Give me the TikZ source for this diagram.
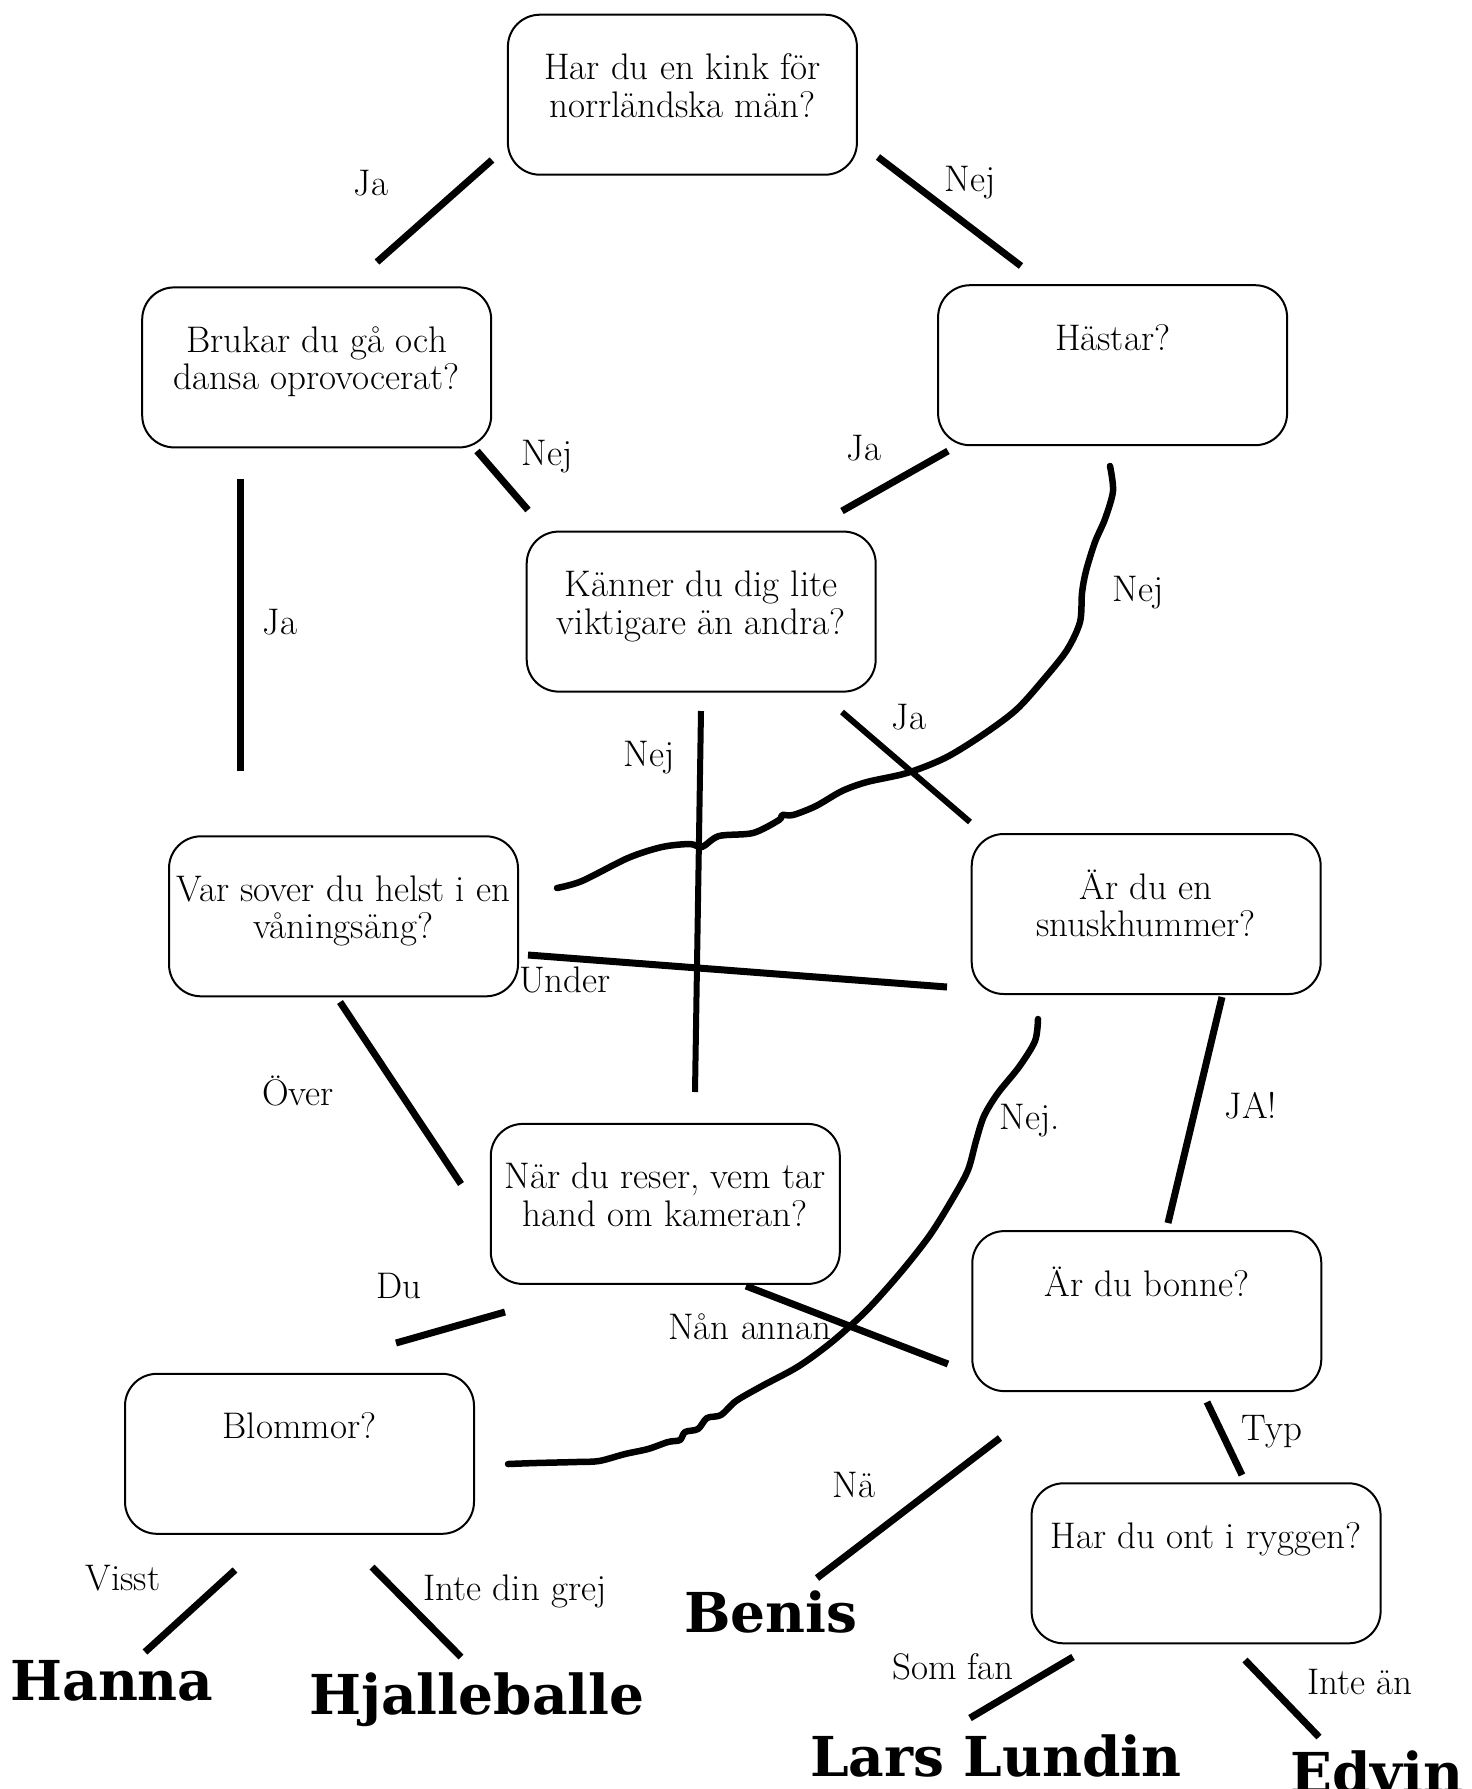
\documentclass[tikz,border=0pt]{standalone}
\usepackage{fontspec}
\newfontfamily\namefont{DejaVu Serif}
\newcommand\qtxt[1]{\parbox[c][160pt][t]{345pt}{\centering\fontsize{37}{37.5}\selectfont\rule{0pt}{65pt}#1}}
\begin{document}
\begin{tikzpicture}[x=1pt,y=-1pt,
  qbox/.style={draw, line width=2pt, rounded corners=32pt, minimum width=349pt, minimum height=160pt, inner sep=0pt},
  lab/.style={anchor=base, inner sep=0pt, font=\fontsize{37}{37.5}\selectfont},
  endname/.style={anchor=base, inner sep=0pt, font=\namefont\bfseries\fontsize{55}{58}\selectfont},
  conn/.style={line width=7pt},
  thin conn/.style={line width=6pt},
  wavy/.style={line width=6.5pt, line join=round, line cap=round}]
\fill[white] (0,0) rectangle (1472,1789);
\useasboundingbox (0,0) rectangle (1472,1789);

% question boxes
\node[qbox] (q1)  at (682.4,94.7)   {\qtxt{Har du en kink för\\norrländska män?}};
\node[qbox] (q2)  at (316.7,367.4)  {\qtxt{Brukar du gå och\\dansa oprovocerat?}};
\node[qbox] (q3)  at (1112.6,365.2) {\qtxt{Hästar?}};
\node[qbox] (q4)  at (701.2,611.6)  {\qtxt{Känner du dig lite\\viktigare än andra?}};
\node[qbox] (q5)  at (343.5,916.3)  {\qtxt{Var sover du helst i en\\våningsäng?}};
\node[qbox] (q6)  at (1146.2,914.0) {\qtxt{Är du en\\snuskhummer?}};
\node[qbox] (q7)  at (665.3,1203.9) {\qtxt{När du reser, vem tar\\hand om kameran?}};
\node[qbox] (q8)  at (1146.8,1311.1){\qtxt{Är du bonne?}};
\node[qbox] (q9)  at (299.5,1453.8) {\qtxt{Blommor?}};
\node[qbox] (q10) at (1206.1,1563.3){\qtxt{Har du ont i ryggen?}};

% end results
\node[endname] (r1) at (112,1700)  {Hanna};
\node[endname] (r2) at (477,1714)  {Hjalleballe};
\node[endname] (r3) at (771,1632)  {Benis};
\node[endname] (r4) at (996,1776)  {Lars Lundin};
\node[endname] (r5) at (1377,1792) {Edvin};

% connector end points
\coordinate (a1) at (492,160);   \coordinate (b1) at (377,262);
\coordinate (a2) at (878,157);   \coordinate (b2) at (1021,266);
\coordinate (a3) at (477,451);   \coordinate (b3) at (528,510);
\coordinate (a4) at (948,451);   \coordinate (b4) at (842,511);
\coordinate (a5) at (240,479);   \coordinate (b5) at (240,771);
\coordinate (a6) at (701,711);   \coordinate (b6) at (695,1092);
\coordinate (a7) at (842,712);   \coordinate (b7) at (970,822);
\coordinate (a8) at (528,955);   \coordinate (b8) at (947,987);
\coordinate (a9) at (340,1002);  \coordinate (b9) at (461,1184);
\coordinate (a10) at (1222,997); \coordinate (b10) at (1168,1223);
\coordinate (a11) at (505,1312); \coordinate (b11) at (396,1343);
\coordinate (a12) at (746,1286); \coordinate (b12) at (948,1364);
\coordinate (a13) at (1207,1402);\coordinate (b13) at (1242,1475);
\coordinate (a14) at (1000,1438);\coordinate (b14) at (817,1578);
\coordinate (a15) at (235,1570); \coordinate (b15) at (145,1652);
\coordinate (a16) at (372,1567); \coordinate (b16) at (461,1657);
\coordinate (a17) at (1073,1657);\coordinate (b17) at (970,1718);
\coordinate (a18) at (1245,1660);\coordinate (b18) at (1319,1737);
\coordinate (wa) at (1110,466);  \coordinate (wb) at (557,888);
\coordinate (va) at (1038,1019); \coordinate (vb) at (508,1464);

% straight connectors
\draw[conn] (a1) -- (b1);
\draw[conn] (a2) -- (b2);
\draw[conn] (a3) -- (b3);
\draw[conn] (a4) -- (b4);
\draw[conn] (a5) -- (b5);
\draw[thin conn] (a6) -- (b6);
\draw[thin conn] (a7) -- (b7);
\draw[conn] (a8) -- (b8);
\draw[conn] (a9) -- (b9);
\draw[conn] (a10) -- (b10);
\draw[conn] (a11) -- (b11);
\draw[conn] (a12) -- (b12);
\draw[conn] (a13) -- (b13);
\draw[conn] (a14) -- (b14);
\draw[conn] (a15) -- (b15);
\draw[conn] (a16) -- (b16);
\draw[conn] (a17) -- (b17);
\draw[conn] (a18) -- (b18);

% wavy connectors
\draw[wavy] plot[smooth, tension=0.5] coordinates {(wa) (1113,491) (1105,519) (1095,542) (1086,571) (1082,593) (1080,622) (1067,650) (1044,679) (1016,710) (981,736) (945,758) (907,773) (867,782) (842,791) (816,806) (793,815) (782,815) (779,820) (753,833) (719,836) (702,847) (690,844) (662,847) (628,858) (582,881) (wb)};
\draw[wavy] plot[smooth, tension=0.5] coordinates {(va) (1035,1041) (1019,1067) (998,1093) (984,1116) (976,1141) (968,1170) (953,1198) (930,1235) (901,1272) (867,1310) (833,1341) (799,1366) (762,1386) (736,1401) (721,1415) (707,1418) (698,1429) (685,1432) (680,1440) (668,1442) (648,1449) (625,1454) (599,1461) (576,1462) (536,1463) (vb)};

% labels
\node[lab] (l1) at (371,195) {Ja};
\node[lab] (l2) at (970,191) {Nej};
\node[lab] (l3) at (547,465) {Nej};
\node[lab] (l4) at (864,460) {Ja};
\node[lab] (l5) at (280,634) {Ja};
\node[lab] (l6) at (1138,601) {Nej};
\node[lab] (l7) at (649,766) {Nej};
\node[lab] (l8) at (909,729) {Ja};
\node[lab] (l9) at (565,992) {Under};
\node[lab] (l10) at (298,1105) {Över};
\node[lab] (l11) at (1030,1129) {Nej.};
\node[lab] (l12) at (1251,1118) {JA!};
\node[lab] (l13) at (399,1298) {Du};
\node[lab] (l14) at (750,1339) {Nån annan};
\node[lab] (l15) at (1272,1440) {Typ};
\node[lab] (l16) at (854,1497) {Nä};
\node[lab] (l17) at (123,1590) {Visst};
\node[lab] (l18) at (515,1600) {Inte din grej};
\node[lab] (l19) at (953,1679) {Som fan};
\node[lab] (l20) at (1360,1694) {Inte än};
\end{tikzpicture}
\end{document}
